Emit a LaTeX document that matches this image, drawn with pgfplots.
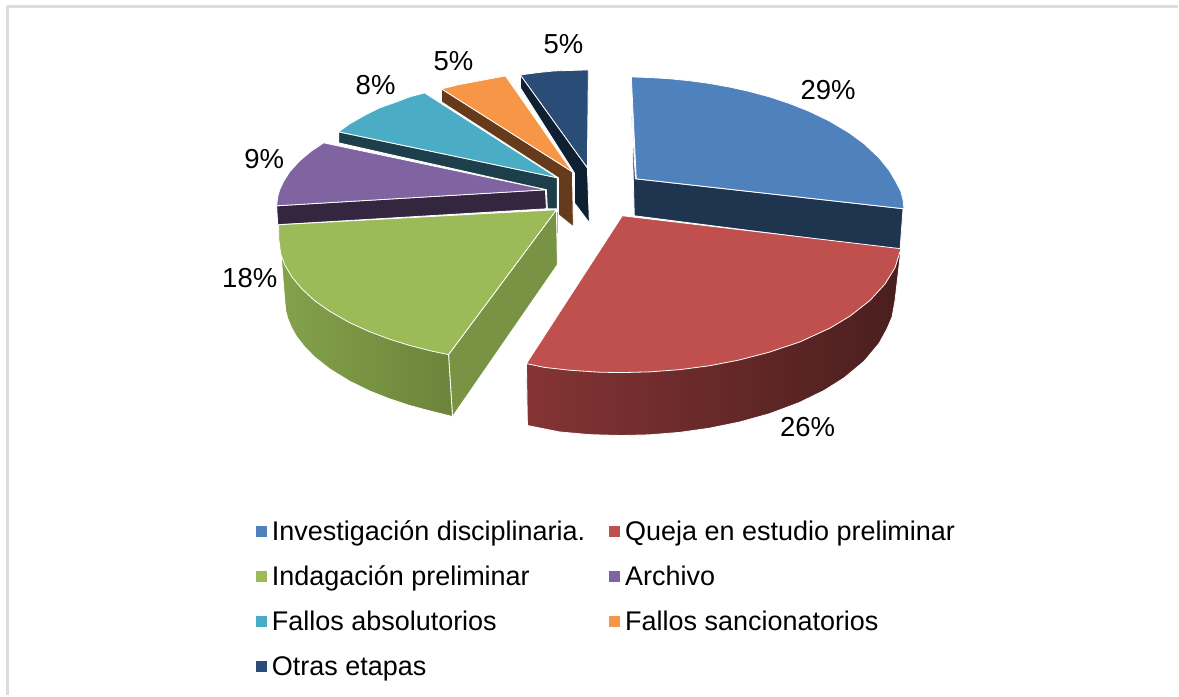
\documentclass[border=0pt]{standalone}
\usepackage{pgfplots}
\pgfplotsset{compat=1.18}
\usepackage{fontspec}
\setmainfont{Liberation Sans}
\definecolor{cblue}{HTML}{4F81BD}
\definecolor{cblues}{HTML}{1F344F}
\definecolor{cred}{HTML}{C0504D}
\definecolor{credl}{HTML}{853434}
\definecolor{credr}{HTML}{4A1E1E}
\definecolor{cgreen}{HTML}{9BBB59}
\definecolor{cgreens}{HTML}{789343}
\definecolor{cgreenl}{HTML}{84A24C}
\definecolor{cgreenr}{HTML}{6B843A}
\definecolor{cpurple}{HTML}{8064A2}
\definecolor{cpurples}{HTML}{35263F}
\definecolor{cteal}{HTML}{4BACC6}
\definecolor{cteals}{HTML}{1D3F4B}
\definecolor{corange}{HTML}{F79646}
\definecolor{coranges}{HTML}{663B1B}
\definecolor{cnavy}{HTML}{2A4D78}
\definecolor{cnavys}{HTML}{0F2032}
\definecolor{frame}{HTML}{DDDDDD}
\begin{document}
\begin{tikzpicture}
\begin{axis}[
  scale only axis, width=1179pt, height=696pt,
  xmin=0, xmax=1179, ymin=0, ymax=696, y dir=reverse,
  axis lines=none, clip=false,
  every axis plot/.append style={no marks, line join=round},
  legend columns=2, legend cell align=left,
  legend style={at={(axis cs:253,517)}, anchor=north west, draw=none, fill=none, font=\fontsize{27}{30}\selectfont,
    /tikz/every even column/.append style={column sep=22pt}, row sep=20pt},
  legend image code/.code={\fill[#1] (-4.5pt,-5.5pt) rectangle (6.5pt,5.5pt); \path (9.5pt,0pt);},
]
% page extent and frame
\addplot[draw=none, forget plot] coordinates {(0,0) (1179,696)};
\addplot[frame, line width=2.6pt, forget plot] coordinates {(7.5,696) (7.5,6.3) (1179,6.3)};
% navy
\addplot[fill=cnavys, draw=white, line width=0.8pt, forget plot] coordinates {(521,75) (588,168) (590,223) (575,203) (575,173) (521,88) (521,75)};
\addplot[fill=cnavy, draw=white, line width=0.8pt, forget plot] coordinates {(521,75) (540,72.5) (555,71) (572,70.5) (589,70) (588,168) (521,75)};
% orange
\addplot[fill=coranges, draw=white, line width=0.8pt, forget plot] coordinates {(442,89) (573,172) (574,227) (559,215) (559,178) (442,102) (442,89)};
\addplot[fill=corange, draw=white, line width=0.8pt, forget plot] coordinates {(442,89) (458,85) (474,82) (490,79) (506,76) (573,172) (442,89)};
% teal
\addplot[fill=cteals, draw=white, line width=0.8pt, forget plot] coordinates {(339,132) (558,178) (558,209) (548,209) (547,190) (339,143) (339,132)};
\addplot[fill=cteal, draw=white, line width=0.8pt, forget plot] coordinates {(339,132) (350,124) (366,115) (380,108) (397,102) (410,97) (425,93) (558,178) (339,132)};
\addplot[color=cteals!40!white, line width=0.8pt, forget plot] coordinates {(558,212) (558,233)};
% purple
\addplot[fill=cpurples, draw=white, line width=0.8pt, forget plot] coordinates {(277,206) (546,190) (547,209) (278,225) (277,206)};
\addplot[fill=cpurple, draw=white, line width=0.8pt, forget plot] coordinates {(277,206) (278,197) (280,190) (284,181.5) (290,172) (300,161) (312,151) (324,143) (547,190) (277,206)};
% green
\addplot[fill=cgreens, draw=white, line width=0.8pt, forget plot] coordinates {(557,210) (449,355) (453,417) (558,265) (557,210)};
\addplot[left color=cgreenl, right color=cgreenr, draw=white, line width=0.8pt, forget plot] coordinates {(279,225) (285,300) (286,311) (288,318.6) (292,328.3) (297,337) (305,347.3) (315,357.4) (330,369.3) (350,381.6) (370,391.4) (390,399.3) (410,405.9) (430,411.3) (453,417) (449,355) (279,225)};
\addplot[fill=cgreen, draw=white, line width=0.8pt, forget plot] coordinates {(279,225) (279,239) (281,254) (285,265) (292,277) (302,289) (315,301) (330,311.6) (350,323) (370,332.1) (390,339.6) (410,345.8) (430,351) (449,355) (557,210) (279,225)};
% blue
\addplot[fill=cblues, draw=white, line width=0.8pt, forget plot] coordinates {(632,103) (636,179) (904,209) (901,250) (635,216) (632,103)};
\addplot[fill=cblue, draw=white, line width=0.8pt, forget plot] coordinates {(632,77) (650,77.6) (670,78.8) (690,80.8) (710,83.5) (730,87.1) (750,91.5) (770,96.9) (790,103.5) (810,111.4) (830,121) (850,132.9) (865,143.9) (880,158) (890,170.4) (897,182.2) (902,192) (904,200) (905,209) (637,179) (632,77)};
% red
\addplot[left color=credl, right color=credr, draw=white, line width=0.8pt, forget plot] coordinates {(527,364) (528,426) (560,432.4) (590,435.1) (622,436) (650,435.3) (680,432.9) (710,428.7) (740,422.6) (770,414.3) (800,403.1) (825,390.9) (845,378.3) (865,361.7) (880,343.8) (888,329.2) (893,317.4) (896,301) (902,249) (527,364)};
\addplot[fill=cred, draw=white, line width=0.8pt, forget plot] coordinates {(623,216) (902,249) (896,268) (886,284.3) (871,300.7) (851,316.4) (831,328.4) (801,342.2) (770,352.6) (740,360.4) (710,366.2) (680,370.1) (650,372.3) (622,373) (600,372.6) (570,370.6) (545,367.8) (527,364) (623,216)};
% labels
\node[font=\fontsize{27.5}{30}\selectfont] at (axis cs:829,90) {29\%};
\node[font=\fontsize{27.5}{30}\selectfont] at (axis cs:808.5,428) {26\%};
\node[font=\fontsize{27.5}{30}\selectfont] at (axis cs:250,278) {18\%};
\node[font=\fontsize{27.5}{30}\selectfont] at (axis cs:264.5,159) {9\%};
\node[font=\fontsize{27.5}{30}\selectfont] at (axis cs:376,85) {8\%};
\node[font=\fontsize{27.5}{30}\selectfont] at (axis cs:454,61) {5\%};
\node[font=\fontsize{27.5}{30}\selectfont] at (axis cs:564,44) {5\%};
% legend
\addlegendimage{fill=cblue,draw=none}\addlegendentry{Investigación disciplinaria.}
\addlegendimage{fill=cred,draw=none}\addlegendentry{Queja en estudio preliminar}
\addlegendimage{fill=cgreen,draw=none}\addlegendentry{Indagación preliminar}
\addlegendimage{fill=cpurple,draw=none}\addlegendentry{Archivo}
\addlegendimage{fill=cteal,draw=none}\addlegendentry{Fallos absolutorios}
\addlegendimage{fill=corange,draw=none}\addlegendentry{Fallos sancionatorios}
\addlegendimage{fill=cnavy,draw=none}\addlegendentry{Otras etapas}
\end{axis}
\end{tikzpicture}
\end{document}
